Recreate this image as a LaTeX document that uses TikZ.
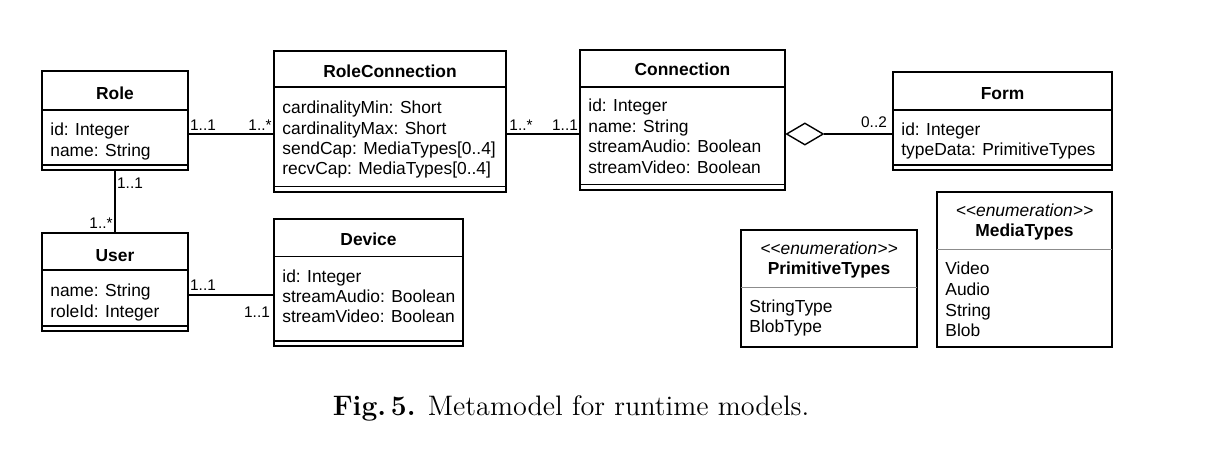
\documentclass[tikz,border=0pt]{standalone}
\usepackage{fontspec}
\setsansfont{Liberation Sans}
\usetikzlibrary{fit,shapes.geometric}
\newcommand\umlfs{\fontsize{8.7}{10.4}\selectfont}
\newcommand\umlfm{\fontsize{7.7}{9}\selectfont}
\tikzset{
  box/.style={draw, line width=0.7pt, inner sep=0pt},
  sepline/.style={line width=0.7pt},
  greysep/.style={line width=0.5pt, draw=black!45},
  title/.style={font=\sffamily\bfseries\umlfs, anchor=base, inner sep=0pt},
  attr/.style={font=\sffamily\umlfs, anchor=base west, inner sep=0pt},
  stereo/.style={font=\sffamily\itshape\umlfs, anchor=base, inner sep=0pt},
  mult/.style={font=\sffamily\umlfm, inner sep=0pt},
  assoc/.style={line width=0.7pt},
  aggr/.style={diamond, draw, line width=0.7pt, fill=white, inner sep=0pt,
    minimum width=18.5pt, minimum height=11pt, anchor=west},
}
\begin{document}
\begin{tikzpicture}[x=0.5pt,y=-0.5pt]
\useasboundingbox (0,0) rectangle (1207,450);

% Role
\node[box, fit={(42,71)(188,170)}] (role) {};
\draw[sepline] (42,110) -- (188,110);
\draw[sepline] (42,165) -- (188,165);
\node[title] (roleT) at (115,99) {Role};
\node[attr] (roleA1) at (50,135) {id: Integer};
\node[attr] (roleA2) at (50,156) {name: String};

% RoleConnection
\node[box, fit={(274,51)(506,192)}] (rc) {};
\draw[sepline] (274,87) -- (506,87);
\draw[sepline] (274,186.5) -- (506,186.5);
\node[title] (rcT) at (390,77) {RoleConnection};
\node[attr] (rcA1) at (282,113) {cardinalityMin: Short};
\node[attr] (rcA2) at (282,134) {cardinalityMax: Short};
\node[attr] (rcA3) at (282,154) {sendCap: MediaTypes[0..4]};
\node[attr] (rcA4) at (282,174) {recvCap: MediaTypes[0..4]};

% Connection
\node[box, fit={(580,50)(785,190)}] (conn) {};
\draw[sepline] (580,87) -- (785,87);
\draw[sepline] (580,184.5) -- (785,184.5);
\node[title] (connT) at (682.5,75) {Connection};
\node[attr] (connA1) at (588,111) {id: Integer};
\node[attr] (connA2) at (588,132) {name: String};
\node[attr] (connA3) at (588,152) {streamAudio: Boolean};
\node[attr] (connA4) at (588,173) {streamVideo: Boolean};

% Form
\node[box, fit={(893,72)(1112,170)}] (form) {};
\draw[sepline] (893,110) -- (1112,110);
\draw[sepline] (893,165) -- (1112,165);
\node[title] (formT) at (1002.5,99) {Form};
\node[attr] (formA1) at (901,135) {id: Integer};
\node[attr] (formA2) at (901,155) {typeData: PrimitiveTypes};

% User
\node[box, fit={(42,233)(188,331)}] (user) {};
\draw[sepline] (42,270) -- (188,270);
\draw[sepline] (42,326) -- (188,326);
\node[title] (userT) at (115,261) {User};
\node[attr] (userA1) at (50,296) {name: String};
\node[attr] (userA2) at (50,317) {roleId: Integer};

% Device
\node[box, fit={(274,219)(463,346)}] (dev) {};
\draw[sepline] (274,256.5) -- (463,256.5);
\draw[sepline] (274,341) -- (463,341);
\node[title] (devT) at (368.5,245) {Device};
\node[attr] (devA1) at (282,282) {id: Integer};
\node[attr] (devA2) at (282,302.5) {streamAudio: Boolean};
\node[attr] (devA3) at (282,322.5) {streamVideo: Boolean};

% PrimitiveTypes
\node[box, fit={(741,230)(917,347)}] (prim) {};
\draw[greysep] (741,287) -- (917,287);
\node[stereo] (primS) at (829,254) {<{}<enumeration>{}>};
\node[title] (primT) at (829,274) {PrimitiveTypes};
\node[attr] (primA1) at (749,312.5) {StringType};
\node[attr] (primA2) at (749,332.5) {BlobType};

% MediaTypes
\node[box, fit={(937,192)(1112,347)}] (media) {};
\draw[greysep] (937,249) -- (1112,249);
\node[stereo] (mediaS) at (1024.5,216) {<{}<enumeration>{}>};
\node[title] (mediaT) at (1024.5,236) {MediaTypes};
\node[attr] (mediaA1) at (945,274) {Video};
\node[attr] (mediaA2) at (945,295.5) {Audio};
\node[attr] (mediaA3) at (945,316) {String};
\node[attr] (mediaA4) at (945,336) {Blob};

% Connectors
\draw[assoc] (role.east |- 0,134) -- (rc.west |- 0,134);
\node[mult] (m1) at (203,125) {1..1};
\node[mult] (m2) at (260,125) {1..*};

\draw[assoc] (rc.east |- 0,134) -- (conn.west |- 0,134);
\node[mult] (m3) at (521,125) {1..*};
\node[mult] (m4) at (565,125) {1..1};

\node[aggr] (agg) at (conn.east |- 0,134) {};
\draw[assoc] (agg.east) -- (form.west |- agg.east);
\node[mult] (m5) at (874,122) {0..2};

\draw[assoc] (role.south -| 115,0) -- (user.north -| 115,0);
\node[mult] (m6) at (130,183) {1..1};
\node[mult] (m7) at (101,223) {1..*};

\draw[assoc] (user.east |- 0,295) -- (dev.west |- 0,295);
\node[mult] (m8) at (203,285) {1..1};
\node[mult] (m9) at (257,312) {1..1};

% Caption
\node[font=\fontsize{14.1}{16}\selectfont, anchor=base, inner sep=0pt] (cap) at (571,415) {\textbf{Fig.\,5.} Metamodel for runtime models.};
\end{tikzpicture}
\end{document}
